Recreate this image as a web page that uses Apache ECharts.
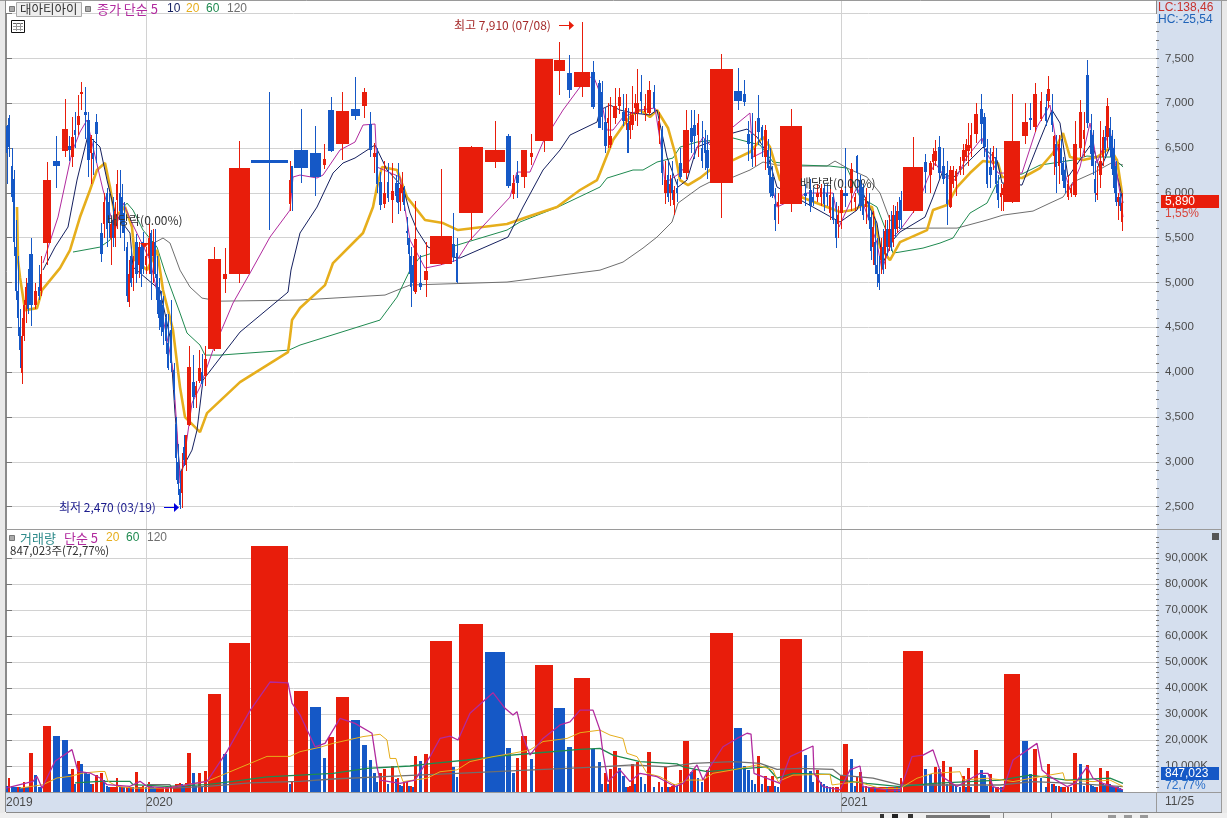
<!DOCTYPE html>
<html>
<head>
<meta charset="UTF-8">
<title>대아티아이</title>
<style type="text/css">
	html, body { margin: 0; padding: 0; background: #fff; overflow: hidden; }
	#main { width: 1227px; height: 818px; }
</style>
</head>
<body>
<div id="main"></div>
<script src="https://cdn.jsdelivr.net/npm/echarts@6/dist/echarts.min.js"></script>
<script type="text/javascript">
// equivolume chart: x axis counts traded lots, each row is [lot, open, high, low, close, volume(K)]
var candles2019 = [
	[0,6750,6760,6100,6450,2500],[2,6830,6870,6400,6510,5400],[5,6300,6500,5900,5950,2500],[7,6150,6250,5300,5450,2000],
	[9,5400,5700,4800,4900,1800],[11,4900,5300,4400,4600,2000],[13,4500,4700,4050,4250,1800],[15,3990,4600,3870,4400,1500],
	[17,4400,4800,4350,4750,4000],[19,4750,5050,4550,4950,2000],[21,5000,5150,4650,4700,1800],[23,5320,5500,4520,4750,15000],
	[28,4750,5000,4700,4900,6700],[32,4950,5200,4800,4850,2000],[34,4900,5300,4850,5100,1800],[37,5440,6340,5200,6140,25500],
	[47,6350,6630,6050,6300,21700],[56,6470,7050,6400,6710,20000],[62,6520,6630,6350,6480,7000],[65,6400,6850,6290,6620,9000],
	[68,6700,6900,6500,6650,3000],[71,6760,7090,6650,6860,12000],[74,7100,7240,6920,7130,10800],[78,6900,7180,6600,6870,7300],
	[81,6810,6900,6180,6370,6800],[84,6440,6650,6100,6620,3000],[86,6450,6600,6200,6380,3000],[89,6790,6880,6330,6660,6400],
	[94,5550,5660,5230,5320,7400],[97,5650,6000,5500,5900,4700],[100,6000,6050,5400,5600,2500],[102,5900,6000,5500,5700,2000],
	[104,5500,5700,5200,5650,2000],[106,5700,5950,5400,5500,2000],[108,5500,5900,5400,5800,2000],[110,5920,6250,5600,6100,5400],
	[113,6000,6250,5500,5800,2000],[115,5950,6100,5550,5650,2000],[117,5770,5900,5350,5550,1800],[120,5400,5450,4780,4850,2000],
	[122,4780,5250,4730,5100,1800],[124,5300,5400,4950,5000,2000],[126,5050,5300,4900,5200,1800],[129,5450,5540,5000,5100,7800],
	[132,5200,5450,5050,5400,2000],[134,5400,5450,4950,5100,2000],[136,5450,5560,5100,5150,2500],[139,5200,5400,5100,5300,1800]
];
var candles2020a = [
	[142,5300,5650,5100,5500,4000],[144,5550,5590,4800,5100,3000],[146,5300,5600,5000,5450,2000],[148,5450,5600,5050,5100,1500],
	[150,5100,5300,4650,4800,1500],[152,4950,5050,4470,4600,1500],[154,4800,4900,4400,4500,1500],[156,4750,4850,4300,4450,1800],
	[159,4600,4650,4200,4350,2000],[161,4320,4650,4020,4050,2000],[164,4470,4800,4000,4100,2500],[167,4020,4100,3690,3800,2500],
	[169,3420,3500,2800,3040,3000],[171,3000,3200,2630,2750,3000],[173,2700,2900,2470,2520,3500],[175,2650,3100,2480,2900,3000],
	[177,3170,3300,2950,3020,2500],[179,2960,3300,2900,3300,3500],[181,3410,4290,3400,4060,15000],[186,3890,4190,3600,3720,7300],
	[189,3750,3900,3600,3850,2500],[192,3900,4250,3880,4050,7300],[195,4000,4200,3850,3870,2000],[198,3960,4290,3850,4150,8200],
	[202,4260,5400,4240,5260,37800],[217,5040,5380,4880,5090,14600],[223,5100,6580,5000,6280,57400],[245,6370,7130,5590,6330,94700],
	[283,5880,6350,5800,6140,3000],[285,6300,6300,5800,6000,4000],[288,6480,6940,6110,6280,38800],[304,6450,6750,5960,6180,32700],
	[317,6310,6540,6270,6380,13000],[322,6930,7070,6460,6470,21000],[330,6540,7120,6370,6910,36500],[345,6935,7290,6810,6860,27700],
	[356,6970,7170,6840,7125,18000],[363,6770,6900,6400,6480,12300],[367,6400,6560,6220,6450,7300],[370,6450,6500,6000,6100,4000],
	[373,6120,6230,5810,5860,7300],[377,5880,6350,5830,6000,8800],[381,6120,6330,5900,5940,3000],[385,5920,6330,5660,6020,10000],
	[389,6110,6200,5900,5960,5000],[391,6110,6330,5760,5890,5400],[393,5900,6100,5800,6050,2700],[395,6000,6230,5900,6090,2500],
	[397,6020,6080,5800,5860,3800],[400,5580,5730,5420,5560,3800],[402,5500,5500,5100,5320,2500],[404,5300,5400,4730,4950,2500],
	[406,5200,5300,4900,5000,2000],[408,4890,5910,4870,5480,13800],[413,4990,5310,4920,4950,12000],[418,5030,5450,4840,5130,14600]
];
var candles2020b = [
	[424,5210,6270,5190,5520,58000],[446,5435,5770,5230,5290,9600],[450,5325,5500,5000,5010,5800],[453,5780,6520,5470,6510,64600],
	[479,6340,6800,6280,6480,53800],[500,6640,6660,6050,6075,16900],[506,5990,6200,5930,6110,7300],[510,6195,6355,5945,6110,13000],
	[515,6180,6480,6050,6480,21500],[524,6400,6660,6310,6450,12700],[529,6580,7495,6460,7490,48800],[548,7360,7680,7090,7480,32300],
	[561,7340,7540,7055,7150,17300],[568,7185,7910,7065,7350,43800],[585,7350,7475,6940,6960,16500],[592,7230,7260,6720,6720,11500],
	[595,7130,7250,6700,6850,3000],[598,6790,6950,6440,6520,7300],[601,6780,7000,6500,6830,3000],[603,6530,7070,6500,6630,8800],
	[607,6840,7165,6770,6970,15700],[612,6970,7165,6880,7070,9200],[616,6900,7100,6750,6800,6100],[619,6800,7100,6700,6950,2000],
	[621,6780,6950,6440,6450,2000],[623,6700,6900,6600,6800,2500],[625,6760,7190,6700,6870,10700],[628,6950,7100,6800,7000,3000],
	[630,6890,7380,6750,7000,11500],[634,7130,7310,6880,7020,5800],[638,6900,7100,6800,6970,3000],[641,6890,7250,6870,7150,15400],
	[647,7130,7200,6900,6950,2000],[652,6700,6900,6550,6800,3800],[655,6700,6750,6090,6220,2000],[658,6000,6350,5880,6140,9600],
	[661,6200,6350,5900,5950,2000],[663,6000,6200,5850,6100,2000],[665,6150,6350,5920,6000,2500],[667,5860,6080,5750,6030,3000],
	[670,6050,6150,5900,6000,2500],[673,6330,6500,6150,6180,8500],[677,6220,6930,6150,6700,19600],[684,6720,6920,6450,6570,7700],
	[687,6760,6930,6380,6630,8800],[691,6650,6880,6400,6780,5400],[695,6500,6800,6280,6350,4000],[698,6600,6700,6250,6450,5000],
	[700,6480,6650,6150,6280,8500]
];
var candles2020c = [
	[704,6110,7550,5715,7380,61200],[728,7135,7390,6930,7030,24600],[737,7100,7260,6970,7010,10000],[741,6660,6800,6350,6550,8500],
	[745,6660,6890,6290,6380,4600],[748,6400,6800,6300,6500,3000],[751,6830,7090,6530,6680,13800],[755,6740,6760,6400,6590,3000],
	[758,6400,6760,6260,6700,6100],[761,6480,6600,6200,6280,2500],[763,6300,6500,5950,6000,2500],[765,6180,6300,5940,5960,6100],
	[768,5880,6050,5570,5700,2500],[771,5850,6000,5650,5900,2000],[774,5880,6940,5790,6745,58800],[798,6000,6100,5850,5960,14200],
	[803,6030,6150,5790,5850,8000],[806,5950,6050,5850,5900,3800],[810,5950,6100,5900,6000,8500],[814,5950,6100,5850,6050,3800],
	[817,6050,6100,5800,5880,3000],[820,6000,6100,5850,5950,2500],[823,5770,6050,5700,5980,2000],[826,5950,6000,5650,5700,2000],
	[829,5700,5900,5380,5500,2000],[831,5650,5850,5500,5750,2000]
];
var candles2021a = [
	[834,5770,6050,5600,6030,6500],[837,6000,6500,5840,5960,18500],[844,6000,6330,5800,6270,12700],[848,5900,6000,5800,5950,2500],
	[850,6410,6420,6000,6220,5800],[853,6140,6200,5800,5850,7700],[856,6070,6100,5700,5750,2500],[859,5840,6050,5650,5950,2500],
	[862,5900,6000,5600,5700,2000],[864,5730,5800,5250,5350,2000],[866,5400,5800,5200,5620,2000],[868,5450,5700,5100,5200,1800],
	[870,5200,5500,4950,5100,1800],[872,5100,5300,4920,5000,1800],[874,5250,5500,5100,5400,2000],[876,5400,5600,5100,5150,2000],
	[878,5320,5700,5150,5580,2000],[880,5600,5700,5300,5400,1800],[882,5400,5750,5350,5600,1800],[884,5600,5800,5350,5400,1800],
	[886,5450,5860,5400,5750,2000],[888,5750,5850,5500,5600,1800],[890,5600,5900,5550,5800,2000],[892,5800,5950,5600,5700,1800],
	[894,5920,6020,5600,5700,5400],[897,5800,6620,5780,6290,54200],[918,6340,6430,6000,6230,8800],[923,6200,6350,6000,6330,6900],
	[926,6340,6500,6250,6430,3000],[928,6350,6590,6300,6470,9600],[932,6510,6630,6150,6220,8800],[936,6300,6500,6100,6160,11900],
	[940,6220,6350,5640,5880,3000],[943,5840,6300,5830,6250,9600],[946,6100,6300,6050,6250,3000],[949,6130,6270,5970,6240,2500],
	[953,6250,6400,6200,6300,2000],[956,6350,6550,6200,6480,6100],[959,6400,6600,6350,6550,2000],[961,6470,6780,6300,6530,9200],
	[964,6500,6780,6400,6650,2000]
];
var candles2021b = [
	[968,6660,7000,6560,6880,16200],[974,6940,7100,6550,6770,8500],[977,6850,6890,6400,6510,6500],[980,6500,6600,6050,6100,2500],
	[983,6290,6500,6050,6200,6900],[986,6350,6520,6250,6460,2000],[989,6400,6500,6000,6100,2000],[991,6100,6200,5830,5920,2000],
	[994,5950,6100,5800,6000,1800],[996,5980,6100,5800,6050,2000],[998,5900,7100,5890,6575,45400],[1016,6630,7000,6550,6790,19600],
	[1023,6830,7000,6700,6810,6900],[1027,6740,7230,6680,7100,16500],[1034,6820,7130,6800,7020,5400],[1039,6960,7100,6750,6800,2000],
	[1041,7020,7300,6950,7160,10700],[1045,6900,7100,6680,6760,3000],[1047,6410,6650,6200,6630,3000],[1049,6550,6650,6000,6290,2500],
	[1052,6300,6650,6100,6550,2500],[1054,6500,6600,6200,6330,2000],[1056,6330,6400,6050,6130,2000],[1058,6250,6350,6000,6050,2000],
	[1061,5950,6200,5920,6100,2000],[1064,6000,6100,5950,6050,1800],[1067,5980,6800,5950,6550,15000],[1073,6500,7040,6400,6900,10700],
	[1077,6600,6900,6400,6700,2500],[1080,7310,7480,6720,6780,10400],[1084,6700,6880,6300,6430,3000],[1086,6650,6700,6200,6300,2500],
	[1088,6150,6350,5900,6000,2000],[1090,6000,6300,5920,6000,2000],[1093,6200,6800,6050,6350,9200],[1096,6400,6700,6300,6620,3000],
	[1098,6620,6750,6400,6480,2500],[1100,6620,7060,6500,6970,8000],[1103,6720,6850,6400,6480,3000],[1105,6630,6700,6200,6270,2500],
	[1107,6500,6600,6000,6050,2000],[1109,6300,6350,5850,5900,2000],[1111,5900,6000,5700,5950,1800],[1113,5950,6000,5800,5850,1500],
	[1115,5680,6000,5570,5890,847]
];

// price moving averages, [lot, price]
var ma5 = [[37,5217],[52,5730],[66,6456],[74,6679],[81,6813],[87,6511],[97,6032],[109,5585],[117,5887],[127,5641],[144,5250],[161,4391],[167,4023],[171,3353],[174,2762],[177,2940],[186,3655],[194,3833],[207,4246],[227,4771],[244,5105],[264,5507],[284,5808],[287,6177],[294,6199],[311,6166],[317,6199],[334,6478],[349,6567],[357,6757],[369,6768],[371,6288],[394,6177],[404,5474],[419,5161],[434,5195],[451,5250],[464,5474],[504,5953],[511,6232],[524,6232],[537,6567],[557,6924],[574,7181],[587,7315],[594,7114],[601,6701],[607,6701],[617,6846],[634,6924],[649,6947],[656,6445],[659,6110],[674,6221],[684,6366],[697,6623],[704,6534],[727,6735],[744,6891],[747,6400],[761,6478],[764,6177],[771,5842],[801,5998],[827,5998],[833,5619],[851,6065],[857,5887],[871,5440],[876,5139],[887,5507],[894,5585],[911,5842],[921,6143],[929,6333],[939,6177],[949,6143],[961,6400],[976,6612],[979,6478],[992,6221],[1016,6221],[1031,6735],[1044,6980],[1051,6511],[1064,6032],[1074,6288],[1084,6779],[1091,6333],[1104,6701],[1114,5998],[1117,5730]];
var ma10 = [[37,5139],[49,5395],[62,5619],[71,6143],[82,6645],[94,6511],[101,6143],[109,5775],[124,5552],[127,5172],[154,4916],[164,4391],[169,3543],[174,2873],[177,2940],[186,3130],[191,3353],[197,3911],[234,4447],[282,4893],[285,5139],[294,5552],[311,5842],[327,6221],[337,6333],[349,6389],[369,6534],[381,6255],[397,6065],[404,5775],[411,5585],[422,5395],[447,5284],[454,5273],[502,5507],[517,5842],[537,6255],[554,6478],[564,6645],[591,6790],[594,6924],[604,6980],[614,6924],[627,6891],[644,6869],[651,6924],[661,6400],[672,6065],[681,6143],[691,6511],[701,6556],[727,6668],[741,6712],[751,6623],[761,6445],[771,6065],[834,5674],[851,5808],[857,5998],[871,5663],[877,5217],[887,5474],[894,5563],[919,5730],[927,5953],[936,6221],[947,6166],[964,6366],[977,6511],[991,6366],[996,6110],[1016,6087],[1031,6511],[1046,6924],[1054,6779],[1062,6177],[1076,6400],[1086,6556],[1094,6255],[1104,6511],[1114,6065],[1117,5887]];
var ma20 = [[11,5842],[12,5250],[14,5060],[19,4692],[31,4714],[36,4915],[54,5161],[64,5362],[74,5730],[84,6032],[91,6255],[99,6333],[104,6065],[109,5730],[119,5842],[126,5619],[129,5250],[141,5139],[151,5362],[157,4916],[167,4469],[174,3833],[179,3498],[194,3331],[201,3543],[234,3889],[282,4224],[284,4391],[286,4581],[294,4715],[319,4971],[327,5217],[357,5552],[367,5842],[371,6065],[376,6288],[391,6255],[401,5953],[419,5697],[437,5663],[452,5585],[501,5652],[521,5730],[551,5842],[574,6032],[591,6143],[594,6221],[607,6590],[619,6779],[626,6869],[634,6924],[644,6846],[651,6924],[662,6724],[669,6445],[674,6143],[682,6087],[694,6166],[704,6255],[727,6366],[744,6456],[757,6623],[764,6511],[771,6255],[774,6143],[795,5953],[834,5786],[847,5808],[857,5864],[866,5842],[874,5395],[884,5250],[894,5451],[921,5585],[927,5808],[941,5864],[951,6065],[964,6221],[977,6355],[992,6333],[996,6177],[1016,6166],[1034,6277],[1047,6445],[1057,6668],[1064,6400],[1077,6366],[1091,6400],[1104,6500],[1111,6366],[1116,5998]];
var ma60 = [[67,5340],[94,5395],[104,5473],[109,5730],[121,5886],[127,5808],[137,5585],[151,5395],[159,5115],[174,4659],[181,4436],[194,4302],[199,4190],[214,4190],[283,4246],[294,4302],[374,4581],[391,4837],[404,5138],[414,5284],[451,5417],[501,5585],[514,5675],[552,5842],[594,6065],[601,6165],[627,6255],[637,6255],[651,6344],[667,6389],[674,6511],[691,6567],[727,6612],[754,6534],[767,6344],[795,6310],[824,6299],[841,6277],[854,5953],[871,5842],[881,5552],[887,5329],[894,5340],[917,5384],[934,5440],[947,5496],[954,5618],[964,5775],[981,5886],[994,6176],[1016,6210],[1034,6310],[1054,6344],[1067,6366],[1081,6411],[1094,6400],[1107,6400],[1117,6288]];
var ma120 = [[144,5417],[157,5496],[164,5440],[174,5138],[184,4949],[196,4826],[214,4792],[294,4804],[379,4860],[404,4972],[501,5005],[594,5138],[617,5228],[637,5384],[651,5507],[666,5675],[672,5886],[694,6065],[704,6121],[727,6176],[744,6255],[757,6344],[771,6310],[795,6299],[821,6299],[829,6355],[841,6277],[861,6176],[874,5998],[884,5697],[894,5600],[921,5607],[951,5607],[981,5697],[997,5752],[1027,5797],[1044,5886],[1057,5953],[1067,6121],[1087,6221],[1107,6344],[1117,6310]];

// volume moving averages, [lot, volume(K)]
var volMa5 = [[0,1500],[27,4100],[31,6000],[36,1500],[49,11800],[66,16300],[72,7900],[84,7300],[94,5400],[101,2800],[124,2200],[134,4100],[141,2200],[161,1500],[181,2800],[201,4100],[221,15600],[244,31300],[264,42300],[282,42000],[286,34200],[294,29700],[309,17400],[319,18700],[334,28300],[349,26400],[366,22600],[371,9700],[374,4600],[394,3300],[409,4600],[424,13600],[434,20600],[444,21500],[452,20000],[464,30300],[487,38200],[499,32200],[507,29600],[511,30900],[517,21300],[524,14200],[537,20600],[554,25800],[564,27000],[574,31500],[587,31500],[594,23800],[597,14900],[602,4000],[614,8500],[624,4000],[634,7200],[651,5900],[657,4600],[669,2100],[677,3300],[691,10400],[697,4600],[704,9700],[717,17400],[731,20600],[741,22600],[745,22300],[748,7200],[774,3300],[784,13600],[807,17700],[808,7200],[817,2100],[834,800],[844,8500],[854,10000],[857,2100],[881,800],[894,600],[906,13600],[917,14200],[927,16200],[936,5900],[951,2100],[974,7200],[982,7200],[987,2100],[997,800],[1007,12300],[1031,18700],[1036,8500],[1044,5900],[1061,2100],[1069,3300],[1081,9700],[1087,5300],[1097,3300],[1117,800]];
var volMa20 = [[14,1500],[37,2800],[51,5400],[64,6000],[77,7300],[94,7900],[99,7900],[102,4100],[111,2200],[127,1500],[161,1500],[181,2800],[201,4100],[221,7300],[261,13700],[284,13700],[294,15500],[314,17200],[327,18700],[357,21300],[374,22200],[381,20000],[384,12900],[390,12900],[394,7200],[397,4000],[421,5300],[434,7800],[451,8500],[464,11700],[487,13600],[507,14900],[524,16200],[537,19400],[561,20600],[574,22800],[594,23800],[604,21900],[617,20600],[621,14900],[631,13600],[641,7200],[654,5900],[669,2700],[681,4600],[697,4600],[707,7200],[727,8500],[751,10400],[767,8500],[772,4000],[787,6500],[824,6800],[826,2700],[851,4000],[857,3300],[874,1400],[894,1400],[911,5300],[927,7200],[954,7800],[957,4600],[981,5300],[997,4600],[1007,4000],[1034,5900],[1057,7400],[1059,4600],[1087,4000],[1104,4600],[1117,2100]];
var volMa60 = [[69,3500],[94,4100],[124,4100],[127,2800],[161,2200],[201,2800],[227,4100],[261,5800],[294,6500],[327,7200],[361,9100],[404,10000],[427,11000],[461,12300],[494,13800],[527,14900],[574,16400],[594,16800],[607,14200],[634,11700],[671,10800],[677,9700],[701,7800],[727,8700],[761,9700],[771,5300],[787,7200],[824,6800],[834,4600],[861,3300],[894,2100],[927,3300],[994,4600],[1024,6500],[1061,4600],[1104,5300],[1117,3300]];
var volMa120 = [[141,2800],[164,2800],[166,1500],[201,2200],[244,3500],[294,4100],[327,5000],[394,6200],[451,7200],[527,8500],[594,9700],[627,10400],[661,9700],[687,11000],[727,11700],[754,11000],[771,8700],[794,9100],[827,8700],[834,6500],[867,5300],[894,2700],[994,2700],[1027,4000],[1067,3300],[1117,2100]];

// axis ticks and labels
var priceTicks = [2500,3000,3500,4000,4500,5000,5500,6000,6500,7000,7500,8000];
var volumeTicks = [10000,20000,30000,40000,50000,60000,70000,80000,90000];
var yearTicks = [0,140,835];
var yearLabels = ['2019','2020','2021'];

var allCandles = candles2019.concat(candles2020a, candles2020b, candles2020c, candles2021a, candles2021b);
var lotK = 2400;
var RED = '#e81d0b', BLUE = '#1558c6';
var C5 = '#b12a9e', C10 = '#15205f', C20 = '#e6ae1c', C60 = '#1f8a50', C120 = '#6f6f6f';
var NUMFONT = '"Liberation Sans", Arial, sans-serif';
var KRFONT = '"Noto Sans CJK KR", sans-serif';

function range(from, to, step) {
	var out = [];
	for(var v = from; v <= to; v += step) out.push(v);
	return out;
}

function barWidth(api, vol) {
	return Math.max(vol > 6000 ? 3 : 2, Math.round(api.size([vol / lotK, 0])[0] - 2.5));
}

function renderCandle(params, api) {
	var lot = api.value(0), o = api.value(1), c = api.value(4), vol = api.value(5);
	var w = barWidth(api, vol);
	var x = Math.round(api.coord([lot, o])[0]);
	var mid = x + Math.floor(w / 2);
	var hiY = Math.round(api.coord([lot, api.value(2)])[1]);
	var loY = Math.round(api.coord([lot, api.value(3)])[1]);
	var topY = Math.round(api.coord([lot, Math.max(o, c)])[1]);
	var botY = Math.round(api.coord([lot, Math.min(o, c)])[1]);
	var color = c >= o ? RED : BLUE;
	return {
		type: 'group',
		children: [
			{ type: 'rect', shape: { x: mid, y: hiY, width: 1, height: Math.max(1, loY - hiY) }, style: { fill: color } },
			{ type: 'rect', shape: { x: x, y: topY, width: w, height: Math.max(2, botY - topY) }, style: { fill: color } }
		]
	};
}

// volume bar colour follows the change against the previous bar
function renderVolume(params, api) {
	var i = params.dataIndex, lot = api.value(0), vol = api.value(5);
	var w = barWidth(api, vol);
	var x = Math.round(api.coord([lot, vol])[0]);
	var topY = Math.round(api.coord([lot, vol])[1]);
	var baseY = Math.round(api.coord([lot, 0])[1]);
	var up = i > 0 && vol >= allCandles[i - 1][5];
	return {
		type: 'rect',
		shape: { x: x, y: topY, width: w, height: baseY - topY },
		style: { fill: up ? RED : BLUE }
	};
}

function lineSeries(name, data, color, width, axisIndex, z) {
	return {
		name: name,
		type: 'line',
		data: data,
		xAxisIndex: axisIndex,
		yAxisIndex: axisIndex * 2,
		symbol: 'none',
		z: z,
		silent: true,
		lineStyle: { color: color, width: width }
	};
}

function text(x, y, str, color, font, size, z) {
	return {
		type: 'text', x: x, y: y, z: z || 20, silent: true,
		style: { text: str, fill: color, font: (size || 12) + 'px ' + (font || KRFONT), verticalAlign: 'middle', align: 'left' }
	};
}

function box(x, y, w, h, fill, z, stroke) {
	return {
		type: 'rect', x: x, y: y, z: z === undefined ? -1 : z, silent: true,
		shape: { width: w, height: h },
		style: { fill: fill, stroke: stroke || null, lineWidth: stroke ? 1 : 0 }
	};
}

function seg(x1, y1, x2, y2, color, z, width) {
	return {
		type: 'line', z: z === undefined ? 30 : z, silent: true,
		shape: { x1: x1, y1: y1, x2: x2, y2: y2 },
		style: { stroke: color, lineWidth: width || 1 }
	};
}

function tri(points, color, z) {
	return { type: 'polygon', z: z || 30, silent: true, shape: { points: points }, style: { fill: color } };
}

var graphics = [
	// frame and panels
	box(0, 0, 5, 818, '#e9e9e9'),
	box(1157, 0, 65, 812, '#d5dfee'),
	box(1222, 0, 5, 818, '#e9e9e9'),
	box(6, 793, 1216, 19, '#d5dfee'),
	box(0, 813, 1227, 5, '#efefef'),
	seg(0, 0.5, 1227, 0.5, '#9a9a9a', 15),
	seg(5.5, 0, 5.5, 812, '#8a8a8a', 15),
	seg(1221.5, 0, 1221.5, 812, '#9a9a9a', 15),
	seg(6, 529.5, 1222, 529.5, '#9a9a9a', 15),
	seg(6, 792.5, 1222, 792.5, '#9a9a9a', 15),
	seg(6, 812.5, 1222, 812.5, '#8a8a8a', 15),
	seg(1156.5, 0, 1156.5, 14, '#8a8a8a', 15),
	seg(1156.5, 792, 1156.5, 812, '#9a9a9a', 15),
	seg(146.5, 1, 146.5, 14, '#d2d2d2', 1),
	seg(841.5, 1, 841.5, 14, '#d2d2d2', 1),
	// price legend
	box(9.5, 6.5, 5, 5, '#aaaaaa', 20, '#777777'),
	box(16.5, 2.5, 65, 14, '#eeeeee', 19, '#aaaaaa'),
	text(20, 9.5, '대아티아이', '#333333', KRFONT, 12.5),
	box(85.5, 6.5, 5, 5, '#aaaaaa', 20, '#777777'),
	text(97, 9, '종가 단순 5', C5, KRFONT, 13),
	text(167, 9, '10', C10, NUMFONT),
	text(186, 9, '20', C20, NUMFONT),
	text(206, 9, '60', C60, NUMFONT),
	text(227, 9, '120', C120, NUMFONT),
	// calendar button
	box(11.5, 20.5, 13, 12, '#ffffff', 20, '#111111'),
	seg(13, 23.5, 23, 23.5, '#666666', 21), seg(13, 26.5, 23, 26.5, '#999999', 21), seg(13, 29.5, 23, 29.5, '#999999', 21),
	seg(16.5, 23, 16.5, 31, '#999999', 21), seg(20.5, 23, 20.5, 31, '#999999', 21),
	// high and low notes
	text(454, 25, '최고 7,910 (07/08)', '#a52a2a'),
	seg(559, 25.5, 570, 25.5, '#e81d0b'),
	tri([[569, 21], [574, 25.5], [569, 30]], '#e81d0b'),
	text(59, 507, '최저 2,470 (03/19)', '#1a1a8c'),
	seg(164, 507.5, 175, 507.5, '#0000e0'),
	tri([[174, 503], [179, 507.5], [174, 512]], '#0000e0'),
	// ex-dividend notes
	text(107, 220, '배당락(0.00%)', '#333333'),
	tri([[140, 243], [149, 243], [144.5, 248]], '#e81d0b'),
	text(800, 183, '배당락(0.00%)', '#333333'),
	// right side readouts
	text(1158, 8, 'LC:138,46', '#c8322d', NUMFONT, 12),
	text(1158, 20, 'HC:-25,54', '#1f63b8', NUMFONT, 12),
	box(1161, 195, 58, 13, RED, 18),
	text(1165, 201.5, '5,890', '#ffffff', NUMFONT, 12),
	text(1165, 214, '1,55%', '#d8453c', NUMFONT, 12),
	box(1161, 767, 58, 13, BLUE, 18),
	text(1165, 773.5, '847,023', '#ffffff', NUMFONT, 12),
	text(1165, 786, '72,77%', '#2a6fc9', NUMFONT, 12),
	// volume legend
	box(9.5, 535.5, 5, 5, '#aaaaaa', 20, '#777777'),
	text(20, 538, '거래량', '#2e8b8b', KRFONT, 13),
	text(64, 538, '단순 5', C5, KRFONT, 13),
	text(106, 538, '20', C20, NUMFONT),
	text(126, 538, '60', C60, NUMFONT),
	text(147, 538, '120', C120, NUMFONT),
	text(10, 551, '847,023주(72,77%)', '#333333', KRFONT, 11.5),
	box(1212, 533, 7, 7, '#555555', 20),
	// date strip
	text(1165, 802, '11/25', '#4a4a4a', NUMFONT, 12),
	// toolbar stubs under the chart
	box(926, 815, 64, 3, '#777777', 10),
	seg(1003.5, 813, 1003.5, 818, '#888888', 10), seg(1051.5, 813, 1051.5, 818, '#888888', 10),
	box(1108, 815, 8, 3, '#999999', 10), box(1124, 815, 8, 3, '#999999', 10), box(1140, 815, 8, 3, '#999999', 10),
	box(880, 814, 4, 4, '#333333', 10), box(892, 814, 6, 4, '#222222', 10), box(908, 814, 5, 4, '#333333', 10)
];

var myChart = echarts.init(document.getElementById('main'), null, { renderer: 'canvas' });

var gridLine = { show: true, lineStyle: { color: '#d2d2d2', width: 1 } };

var option = {
	animation: false,
	backgroundColor: '#ffffff',
	graphic: { elements: graphics },
	grid: [
		{ left: 6, top: 13.6, width: 1150, height: 515.4 },
		{ left: 6, top: 530, width: 1150, height: 262 }
	],
	xAxis: [
		{
			type: 'value', gridIndex: 0, min: 0, max: 1150,
			axisLine: { show: false },
			axisLabel: { show: false },
			axisTick: { show: false, customValues: yearTicks.slice(1) },
			splitLine: gridLine
		},
		{
			type: 'value', gridIndex: 1, min: 0, max: 1150,
			axisLine: { show: false },
			axisLabel: {
				customValues: yearTicks,
				color: '#4a4a4a', fontFamily: NUMFONT, fontSize: 12, margin: 5, align: 'left',
				formatter: function(v) { return yearLabels[yearTicks.indexOf(v)] || ''; }
			},
			axisTick: { show: true, inside: false, length: 20, customValues: yearTicks.slice(1), lineStyle: { color: '#a8a8a8' } },
			splitLine: gridLine
		}
	],
	yAxis: [
		{
			type: 'value', gridIndex: 0, position: 'right', min: 2250, max: 8000,
			axisLine: { show: true, lineStyle: { color: '#8a8a8a' } },
			axisTick: { show: true, length: 6, customValues: priceTicks, lineStyle: { color: '#777777' } },
			axisLabel: {
				customValues: priceTicks.slice(0, 11),
				color: '#4a4a4a', fontFamily: NUMFONT, fontSize: 11.5, margin: 9,
				formatter: function(v) { return v.toLocaleString('en-US'); }
			},
			splitLine: gridLine
		},
		{
			// minor ticks only
			type: 'value', gridIndex: 0, position: 'right', min: 2250, max: 8000,
			axisLine: { show: false },
			axisTick: { show: true, length: 3, customValues: range(2300, 7900, 100), lineStyle: { color: '#777777' } },
			axisLabel: { show: false },
			splitLine: { show: false }
		},
		{
			type: 'value', gridIndex: 1, position: 'right', min: 0, max: 100770,
			axisLine: { show: true, lineStyle: { color: '#8a8a8a' } },
			axisTick: { show: true, length: 6, customValues: volumeTicks, lineStyle: { color: '#777777' } },
			axisLabel: {
				customValues: volumeTicks,
				color: '#4a4a4a', fontFamily: NUMFONT, fontSize: 11.5, margin: 9,
				formatter: function(v) { return v.toLocaleString('en-US') + 'K'; }
			},
			splitLine: gridLine
		},
		{
			type: 'value', gridIndex: 1, position: 'right', min: 0, max: 100770,
			axisLine: { show: false },
			axisTick: { show: true, length: 3, customValues: range(2000, 98000, 2000), lineStyle: { color: '#777777' } },
			axisLabel: { show: false },
			splitLine: { show: false }
		}
	],
	series: [
		lineSeries('120', ma120, C120, 1, 0, 2),
		lineSeries('60', ma60, C60, 1, 0, 2),
		lineSeries('20', ma20, C20, 2.6, 0, 2),
		lineSeries('10', ma10, C10, 1, 0, 2),
		lineSeries('5', ma5, C5, 1, 0, 2),
		{
			name: '종가',
			type: 'custom',
			xAxisIndex: 0,
			yAxisIndex: 0,
			z: 3,
			silent: true,
			renderItem: renderCandle,
			encode: { x: 0, y: [1, 2, 3, 4] },
			data: allCandles
		},
		{
			name: '거래량',
			type: 'custom',
			xAxisIndex: 1,
			yAxisIndex: 2,
			z: 2,
			silent: true,
			renderItem: renderVolume,
			encode: { x: 0, y: 5 },
			data: allCandles
		},
		lineSeries('120v', volMa120, C120, 1.3, 1, 3),
		lineSeries('60v', volMa60, C60, 1.3, 1, 3),
		lineSeries('20v', volMa20, C20, 1, 1, 3),
		lineSeries('5v', volMa5, C5, 1.3, 1, 3)
	]
};
myChart.setOption(option);
</script>
</body>
</html>
